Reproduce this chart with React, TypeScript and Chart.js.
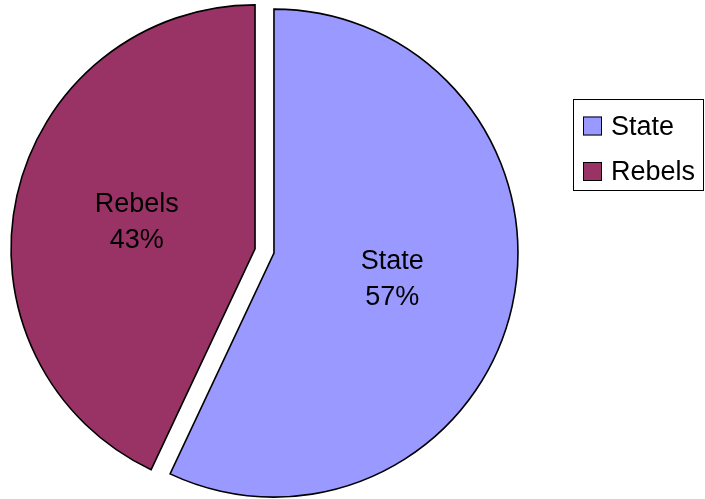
import React, { useEffect, useRef } from "react";
import { Chart, registerables } from "chart.js";

Chart.register(...registerables);

const categories = ["State", "Rebels"];
const shares = [57, 43];
const sliceColors = ["#9999FF", "#993366"];

const FONT = "Liberation Sans, Arial, sans-serif";
const EXPLODE = 9.7;

// Pull every slice out by the same distance along its bisector.
const explodePlugin = {
  id: "explode",
  beforeDatasetsDraw(chart: any) {
    const meta = chart.getDatasetMeta(0);
    meta.data.forEach((arc: any) => {
      if (arc.__exploded) return;
      const orig = arc.draw.bind(arc);
      arc.draw = (ctx: CanvasRenderingContext2D) => {
        const mid = (arc.startAngle + arc.endAngle) / 2;
        ctx.save();
        ctx.translate(Math.cos(mid) * EXPLODE, Math.sin(mid) * EXPLODE);
        orig(ctx);
        ctx.restore();
      };
      arc.__exploded = true;
    });
  },
};

const labelPlugin = {
  id: "sliceLabels",
  afterDatasetsDraw(chart: any) {
    const ctx = chart.ctx;
    const meta = chart.getDatasetMeta(0);
    const ds = chart.data.datasets[0];
    const total = (ds.data as number[]).reduce((a, b) => a + b, 0);
    ctx.save();
    ctx.fillStyle = "#000";
    ctx.font = `27px ${FONT}`;
    ctx.textAlign = "center";
    ctx.textBaseline = "middle";
    meta.data.forEach((arc: any, i: number) => {
      const mid = (arc.startAngle + arc.endAngle) / 2;
      const d = arc.outerRadius * 0.5 + 9;
      const x = arc.x + Math.cos(mid) * d;
      const y = arc.y + Math.sin(mid) * d;
      const pct = Math.round(((ds.data[i] as number) / total) * 100) + "%";
      ctx.fillText(String(chart.data.labels[i]), x, y - 18);
      ctx.fillText(pct, x, y + 18);
    });
    ctx.restore();
  },
};

const legendPlugin = {
  id: "boxLegend",
  afterDraw(chart: any) {
    const ctx = chart.ctx;
    const ds = chart.data.datasets[0];
    const bx = 573.5, by = 99.5, bw = 130, bh = 91;
    ctx.save();
    ctx.strokeStyle = "#000";
    ctx.lineWidth = 1;
    ctx.strokeRect(bx, by, bw, bh);
    ctx.font = `27px ${FONT}`;
    ctx.textAlign = "left";
    ctx.textBaseline = "middle";
    (chart.data.labels as string[]).forEach((lab, i) => {
      const cy = 126.5 + i * 45.5;
      ctx.fillStyle = ds.backgroundColor[i];
      ctx.fillRect(583, cy - 10, 19, 19);
      ctx.strokeRect(583.5, cy - 9.5, 18, 18);
      ctx.fillStyle = "#000";
      ctx.fillText(lab, 611, cy + 1);
    });
    ctx.restore();
  },
};

export default function App() {
  const ref = useRef<HTMLCanvasElement | null>(null);
  useEffect(() => {
    if (!ref.current) return;
    const chart = new Chart(ref.current, {
      type: "pie",
      data: {
        labels: categories,
        datasets: [
          {
            data: shares,
            backgroundColor: sliceColors,
            borderColor: "#000",
            borderWidth: 1.6,
            borderJoinStyle: "miter",
          } as any,
        ],
      },
      options: {
        responsive: false,
        animation: false,
        radius: 244,
        layout: { padding: { left: 0, top: 3, right: 176, bottom: 0 } },
        plugins: {
          legend: { display: false },
          tooltip: { enabled: false },
        },
        events: [],
      } as any,
      plugins: [explodePlugin, labelPlugin, legendPlugin],
    });
    return () => chart.destroy();
  }, []);
  return (
    <div style={{ position: "absolute", left: 0, top: 0, width: 705, height: 499, background: "#fff" }}>
      <canvas ref={ref} width={705} height={499} />
    </div>
  );
}
